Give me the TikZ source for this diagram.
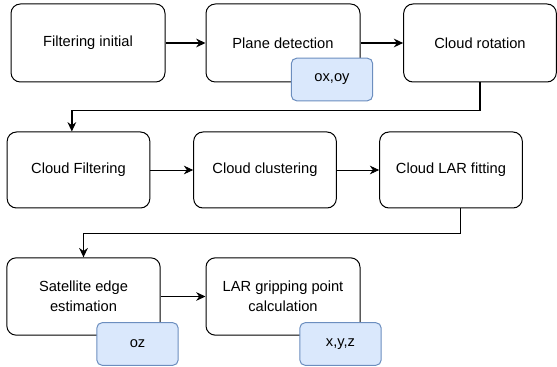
\documentclass[tikz,border=0pt]{standalone}
\usepackage{fontspec}
\setmainfont{Liberation Sans}
\usepackage{tikz}
\usetikzlibrary{positioning}
\usetikzlibrary{arrows.meta}
\definecolor{tagfill}{HTML}{DAE8FC}
\definecolor{tagline}{HTML}{6C8EBF}
\tikzset{
	stagebox/.style={draw, rounded corners=7pt, align=center, font=\fontsize{11}{15}\selectfont, line width=0.75pt},
	tagbox/.style={draw=tagline, fill=tagfill, rounded corners=4pt, font=\fontsize{11}{15}\selectfont, line width=0.75pt, minimum width=61pt, minimum height=32pt},
	flow/.style={-{Stealth[length=7pt, width=6.5pt]}, line width=1.1pt}
}

\begin{document}
\begin{tikzpicture}[x=0.75pt, y=-0.75pt]
		\useasboundingbox (0,0) rectangle (557,367);
		
		\node at (88,43) [stagebox, minimum width=115.5pt, minimum height=58.5pt] (filt) {Filtering initial};
		\node at (283,43) [stagebox, minimum width=115.5pt, minimum height=58.5pt] (plane) {Plane detection};
		\node at (480,43) [stagebox, minimum width=114.5pt, minimum height=58.5pt] (rot) {Cloud rotation};
		
		\node at (78.5,170) [stagebox, minimum width=107pt, minimum height=57pt] (cfilt) {Cloud Filtering};
		\node at (265,170) [stagebox, minimum width=107pt, minimum height=57pt] (clust) {Cloud clustering};
		\node at (451,170) [stagebox, minimum width=107pt, minimum height=57pt] (lar) {Cloud LAR fitting};
		
		\node at (83.5,296.5) [stagebox, minimum width=115pt, minimum height=58pt] (edge) {Satellite edge\\estimation};
		\node at (283,296.5) [stagebox, minimum width=115.5pt, minimum height=58pt] (grip) {LAR gripping point\\calculation};
		
		% output tags sit over the lower right corners
		\node at (332,79.5) [tagbox] (oxoy) {ox,oy};
		\node at (137.5,344) [tagbox] (oz) {oz};
		\node at (340.5,344) [tagbox] (xyz) {x,y,z};
		
		\draw [flow] (filt) -- (plane);
		\draw [flow] (plane) -- (rot);
		\draw [flow] (rot.south) -- ++(0,28) -| ([xshift=-5pt]cfilt.north);
		
		\draw [flow, line width=0.6pt] (cfilt) -- (clust);
		\draw [flow, line width=0.6pt] (clust) -- (lar);
		\draw [flow] ([xshift=7pt]lar.south) -- ++(0,25) -| (edge.north);
		
		\draw [flow] (edge) -- (grip);
		
\end{tikzpicture}
\end{document}
